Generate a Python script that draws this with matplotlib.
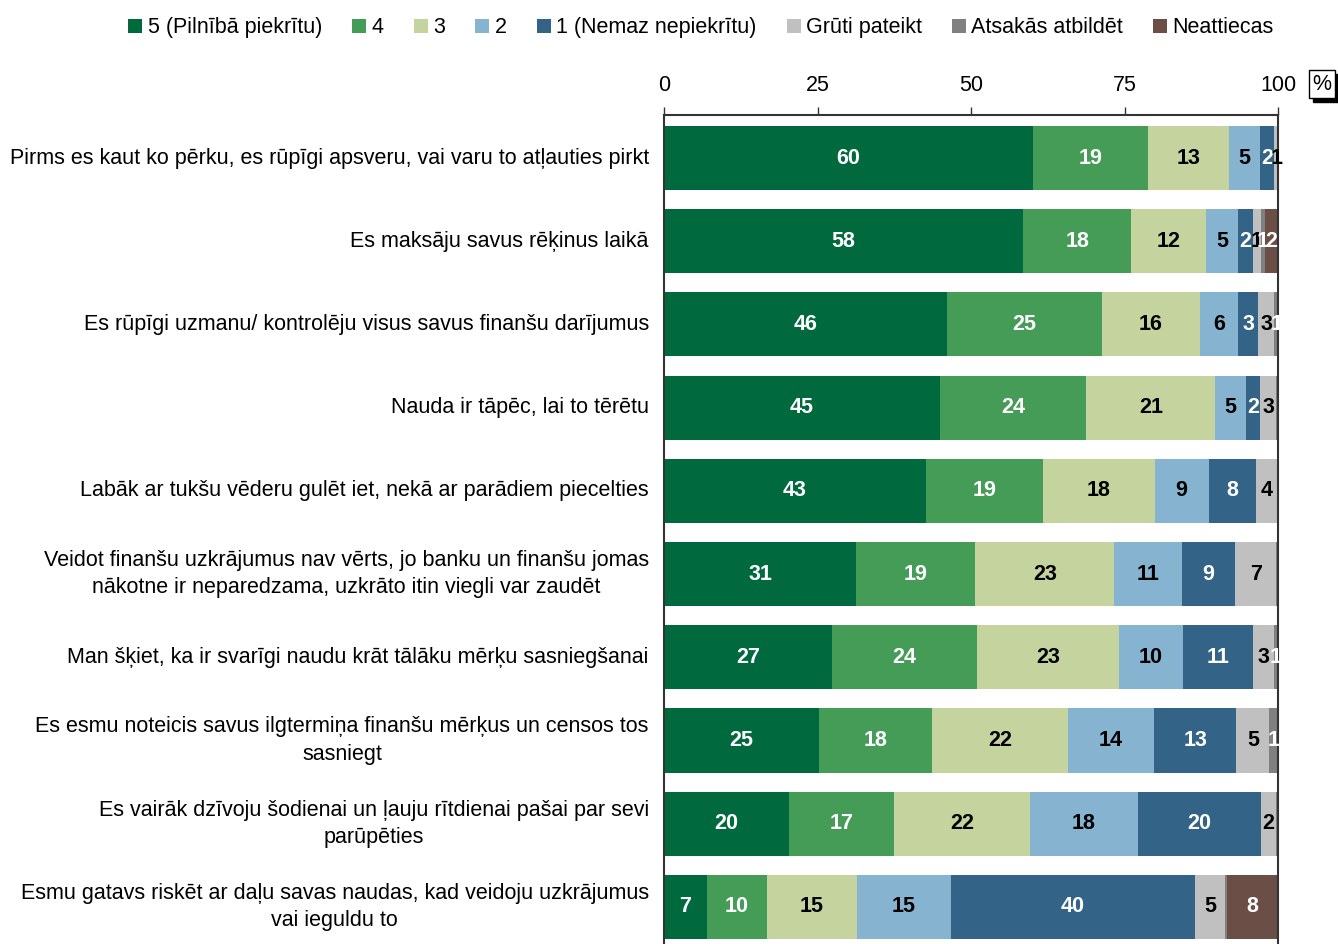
import numpy as np
import matplotlib.pyplot as plt
import matplotlib.transforms as mtransforms
from matplotlib.patches import Rectangle

plt.rcParams['font.family'] = ['Liberation Sans', 'DejaVu Sans']

# Statements (top to bottom)
categories = [
    'Pirms es kaut ko pērku, es rūpīgi apsveru, vai varu to atļauties pirkt',
    'Es maksāju savus rēķinus laikā',
    'Es rūpīgi uzmanu/ kontrolēju visus savus finanšu darījumus',
    'Nauda ir tāpēc, lai to tērētu',
    'Labāk ar tukšu vēderu gulēt iet, nekā ar parādiem piecelties',
    'Veidot finanšu uzkrājumus nav vērts, jo banku un finanšu jomas\nnākotne ir neparedzama, uzkrāto itin viegli var zaudēt',
    'Man šķiet, ka ir svarīgi naudu krāt tālāku mērķu sasniegšanai',
    'Es esmu noteicis savus ilgtermiņa finanšu mērķus un censos tos\nsasniegt',
    'Es vairāk dzīvoju šodienai un ļauju rītdienai pašai par sevi\nparūpēties',
    'Esmu gatavs riskēt ar daļu savas naudas, kad veidoju uzkrājumus\nvai ieguldu to',
]

series_names = ['5 (Pilnībā piekrītu)', '4', '3', '2', '1 (Nemaz nepiekrītu)',
                'Grūti pateikt', 'Atsakās atbildēt', 'Neattiecas']

# Percent per answer, one list per series, rows in category order
s5 = [60.1, 58.5, 46.1, 44.9, 42.6, 31.3, 27.4, 25.3, 20.4, 7.0]
s4 = [18.7, 17.6, 25.2, 23.9, 19.1, 19.4, 23.6, 18.3, 17.1, 9.8]
s3 = [13.2, 12.2, 16.0, 21.0, 18.2, 22.6, 23.1, 22.2, 22.1, 14.6]
s2 = [5.0, 5.2, 6.2, 4.9, 8.8, 11.1, 10.4, 14.0, 17.6, 15.3]
s1 = [2.4, 2.4, 3.3, 2.4, 7.7, 8.6, 11.4, 13.4, 20.0, 39.7]
hard = [0.6, 1.3, 2.6, 2.6, 3.6, 6.7, 3.4, 5.4, 2.4, 5.0]
refused = [0.0, 0.7, 0.6, 0.3, 0.0, 0.3, 0.7, 1.4, 0.3, 0.3]
not_applicable = [0.0, 2.1, 0.0, 0.0, 0.0, 0.0, 0.0, 0.0, 0.0, 8.3]

colors = ['#006a3e', '#459c57', '#c5d49e', '#86b3cf', '#336387',
          '#c0c0c0', '#808080', '#6b4f47']
text_colors = ['white', 'white', 'black', 'black', 'white',
               'black', 'white', 'white']

data = np.array([s5, s4, s3, s2, s1, hard, refused, not_applicable])
y = np.arange(len(categories))
fs = 15.5

fig = plt.figure(figsize=(13.38, 9.44), dpi=100)
ax = fig.add_axes([0.4963, 0.0, 0.4589, 0.8782])

left = np.zeros(len(categories))
for vals, color, tcolor in zip(data, colors, text_colors):
    ax.barh(y, vals, left=left, height=0.77, color=color, linewidth=0)
    for yi, (l, v) in enumerate(zip(left, vals)):
        if round(v) >= 1:
            ax.text(l + v / 2, yi, str(int(round(v))), ha='center', va='center',
                    color=tcolor, fontsize=15.5, fontweight='bold')
    left += vals

ax.set_xlim(0, 100)
ax.set_ylim(9.445, -0.517)

# value axis on top, ticks pointing up
ax.xaxis.tick_top()
ax.set_xticks([0, 25, 50, 75, 100])
ax.tick_params(axis='x', direction='out', length=6, width=1, labelsize=fs,
               pad=8, color='#333333')

ax.set_yticks(y)
ax.set_yticklabels(categories, fontsize=fs, multialignment='center',
                   linespacing=1.38, va='center')
ax.tick_params(axis='y', length=0, pad=11)

ax.spines['bottom'].set_visible(False)
for side in ['top', 'left', 'right']:
    ax.spines[side].set_color('#333333')
    ax.spines[side].set_linewidth(1.5)

# % unit box with a shadow
shadow_tr = mtransforms.offset_copy(fig.transFigure, fig=fig, x=4, y=-4, units='dots')
fig.text(0.988, 0.911, '%', fontsize=fs, ha='center', va='center', color='black',
         transform=shadow_tr,
         bbox=dict(boxstyle='square,pad=0.15', facecolor='black', edgecolor='black'))
fig.text(0.988, 0.911, '%', fontsize=fs, ha='center', va='center',
         bbox=dict(boxstyle='square,pad=0.15', facecolor='white', edgecolor='black',
                   linewidth=1))

handles = [Rectangle((0, 0), 1, 1, facecolor=c, edgecolor='none') for c in colors]
fig.legend(handles, series_names, loc='upper center', bbox_to_anchor=(0.524, 1.002),
           ncol=8, frameon=False, fontsize=fs, handlelength=0.65, handleheight=0.65,
           handletextpad=0.25, columnspacing=1.4)

fig.savefig('out.png', dpi=100)
